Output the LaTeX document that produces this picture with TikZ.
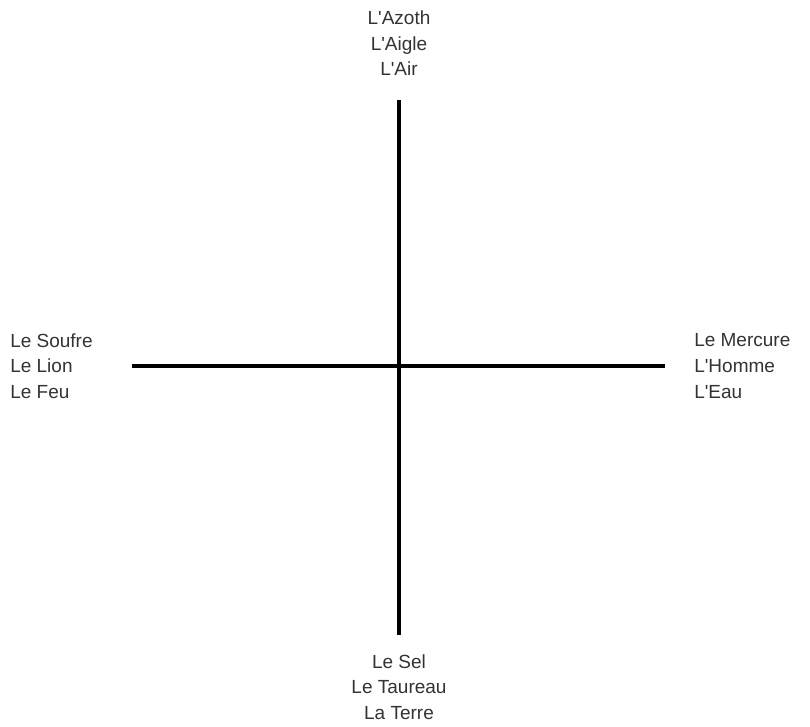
\documentclass[tikz,border=0pt]{standalone}
\usepackage{fontspec}
\setmainfont{Liberation Sans}
\begin{document}
\begin{tikzpicture}[x=0.75pt,y=-0.75pt,
  lbl/.style={inner sep=0pt,text=black!80,font=\fontsize{14.25}{19.3}\selectfont},
  axis/.style={line width=2.3pt,black}]
\useasboundingbox (0,0) rectangle (810,726);
\coordinate (c) at (399,366);
\coordinate (t) at (399,100);
\coordinate (b) at (399,635);
\coordinate (l) at (132,366);
\coordinate (r) at (665,366);
\draw[axis] (t) -- (b);
\draw[axis] (l) -- (r);
\node[lbl,align=center,anchor=south] (top) at (399,76) {L\textquotesingle Azoth\\L\textquotesingle Aigle\\L\textquotesingle Air};
\node[lbl,align=center,anchor=south] (bot) at (399,720) {Le Sel\\Le Taureau\\La Terre};
\node[lbl,align=left,anchor=west] (left) at (10,366) {Le Soufre\\Le Lion\\Le Feu};
\node[lbl,align=left,anchor=west] (right) at (694,366) {Le Mercure\\L\textquotesingle Homme\\L\textquotesingle Eau};
\end{tikzpicture}
\end{document}
